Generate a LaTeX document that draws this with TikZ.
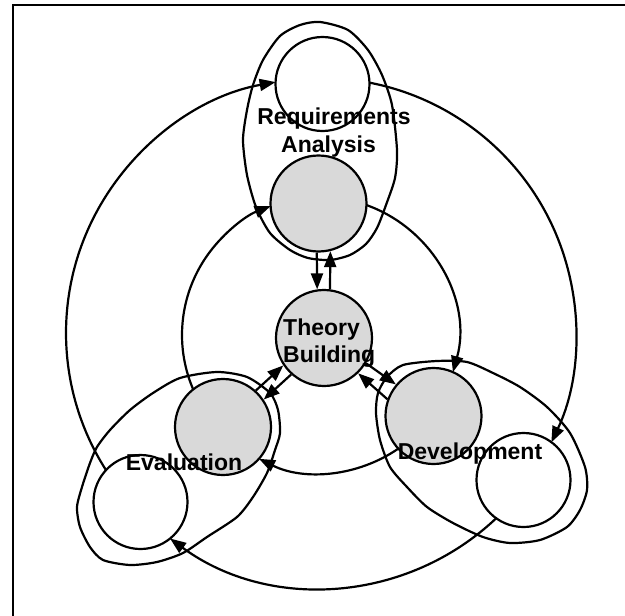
\documentclass[tikz,border=0pt]{standalone}
\usepackage{fontspec}
\setmainfont{Liberation Sans}
\usetikzlibrary{arrows.meta,calc}
\definecolor{cellgray}{RGB}{217,217,217}
\begin{document}
\begin{tikzpicture}[x=1pt,y=1pt,
  ln/.style={line width=2.2pt},
  graycirc/.style={circle,draw,ln,fill=cellgray,minimum size=96pt,inner sep=0pt},
  whitecirc/.style={circle,draw,ln,fill=white,minimum size=94pt,inner sep=0pt},
  arr/.style={ln,-{Triangle[length=16pt,width=12pt]}},
  blobline/.style={ln,line join=round},
  lbl/.style={font=\bfseries\fontsize{23}{27}\selectfont,inner sep=0pt}]
\useasboundingbox (0,0) rectangle (625,-616);
\fill[white] (0,0) rectangle (625,-616);
% frame (only top and left edges visible)
\draw[line width=2.5pt] (13,-616) -- (13,-5) -- (625,-5);
% centres of the two rings
\coordinate (ci) at (320,-335);
\coordinate (co) at (321,-333);
% enclosing blobs
\draw[blobline] plot[smooth cycle,tension=0.45] coordinates {
 (320,-22) (348,-30) (368,-50) (382,-75) (392,-105) (397,-150) (395,-178)
 (386,-205) (377,-228) (366,-244) (350,-255) (330,-260) (308,-258) (290,-250)
 (270,-233) (256,-207) (247,-175) (243,-140) (247,-110) (253,-85) (263,-60)
 (280,-36) (300,-25)};
\draw[blobline] plot[smooth cycle,tension=0.45] coordinates {
 (180,-378) (217,-372) (247,-377) (270,-393) (278,-410) (280,-433) (275,-450)
 (267,-473) (253,-497) (237,-517) (207,-537) (183,-553) (157,-562) (130,-565)
 (103,-560) (90,-547) (80,-527) (77,-507) (82,-487) (90,-463) (97,-447)
 (110,-430) (130,-410) (153,-393)};
\draw[blobline] plot[smooth cycle,tension=0.45] coordinates {
 (403,-365) (437,-361) (467,-362) (493,-373) (520,-387) (547,-407) (570,-433)
 (585,-467) (587,-490) (580,-510) (567,-527) (540,-540) (510,-543) (483,-537)
 (453,-523) (427,-507) (407,-487) (390,-467) (380,-440) (376,-413) (378,-393)
 (387,-377)};
% circles
\node[graycirc] (tb) at (324,-338) {};
\node[graycirc] (rg) at (318.5,-203.5) {};
\node[whitecirc] (rw) at (322.5,-84) {};
\node[graycirc] (dg) at (433.5,-416) {};
\node[whitecirc] (dw) at (523.5,-480) {};
\node[graycirc] (eg) at (223,-427) {};
\node[whitecirc] (ew) at (140.5,-502) {};
% inner ring arcs (gray circles)
\draw[arr] ([shift={(70.35:138)}]ci) arc[start angle=70.35,end angle=-15.6,radius=138];
\draw[arr] ([shift={(-55.4:138)}]ci) arc[start angle=-55.4,end angle=-116.2,radius=138];
\draw[arr] ([shift={(203.2:138)}]ci) arc[start angle=203.2,end angle=110.95,radius=138];
% outer ring arcs (white circles)
\draw[arr] ([shift={(79.05:255)}]co) arc[start angle=79.05,end angle=-25.4,radius=255];
\draw[arr] ([shift={(-46.6:255)}]co) arc[start angle=-46.6,end angle=-126.3,radius=255];
\draw[arr] ([shift={(212.5:255)}]co) arc[start angle=212.5,end angle=100.25,radius=255];
% arrows to and from theory building
\draw[arr] (rg.-92) -- (tb.98);
\draw[arr] (tb.83) -- (rg.-76);
\draw[arr] (eg.48) -- (tb.214);
\draw[arr] (tb.228) -- (eg.34);
\draw[arr] (tb.-31) -- (dg.140);
\draw[arr] (dg.160) -- (tb.-46);
% labels
\node[lbl,anchor=base] (ra1) at (334,-124) {Requirements};
\node[lbl,anchor=base] (ra2) at (328.5,-152) {Analysis};
\node[lbl,anchor=base west] (tb1) at (283,-335) {Theory};
\node[lbl,anchor=base west] (tb2) at (283,-362) {Building};
\node[lbl,anchor=base] (ev) at (184,-470) {Evaluation};
\node[lbl,anchor=base] (dv) at (470,-459) {Development};
\end{tikzpicture}
\end{document}
